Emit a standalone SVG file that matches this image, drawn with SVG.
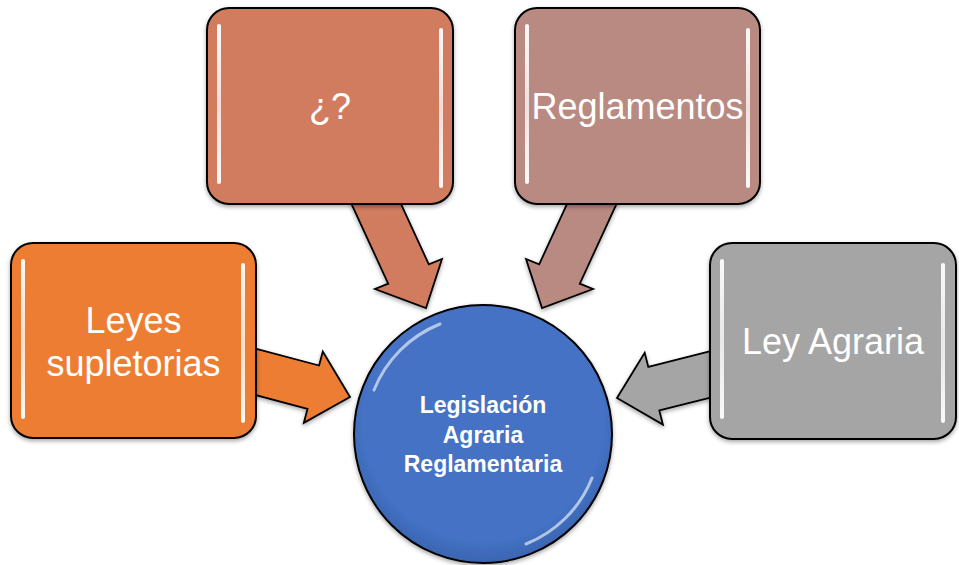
<svg xmlns="http://www.w3.org/2000/svg" width="959" height="565" viewBox="0 0 959 565">
  <defs>
    <filter id="sh" x="-10%" y="-10%" width="120%" height="125%">
      <feDropShadow dx="0" dy="2" stdDeviation="2" flood-color="#000" flood-opacity="0.35"/>
    </filter>
    <radialGradient id="gCircle" cx="50%" cy="45%" r="55%">
      <stop offset="0" stop-color="#4472C4"/>
      <stop offset="0.85" stop-color="#4472C4"/>
      <stop offset="1" stop-color="#3A64B0"/>
    </radialGradient>
    <linearGradient id="hl" x1="0" y1="0" x2="0" y2="1">
      <stop offset="0" stop-color="#fff" stop-opacity="0.95"/>
      <stop offset="0.5" stop-color="#fff" stop-opacity="0.75"/>
      <stop offset="1" stop-color="#fff" stop-opacity="0.95"/>
    </linearGradient>
  </defs>
  <style>
    .box { stroke: #000; stroke-width: 2; filter: url(#sh); }
    .arrow { stroke: #000; stroke-width: 1.8; stroke-linejoin: miter; filter: url(#sh); }
    .shine { fill: url(#hl); }
    .lbl { font-family: "Liberation Sans", Arial, sans-serif; font-size: 36px; fill: #fff; text-anchor: middle; }
    .clbl { font-family: "Liberation Sans", Arial, sans-serif; font-size: 23px; font-weight: bold; fill: #fff; text-anchor: middle; }
  </style>
  <rect width="959" height="565" fill="#fff"/>

  <g id="connectors">
    <polygon class="arrow" fill="#D27B5E" points="390.8,181.8 428.8,264.3 442,259 426,308 375,289 388.2,283.7 350.2,201.2"/>
    <polygon class="arrow" fill="#B98A82" points="577.2,181.8 539.2,264.3 526,259 542,308 593,289 579.8,283.7 617.8,201.2"/>
    <polygon class="arrow" fill="#ED7D31" points="250.8,347.3 319.1,365.5 322.8,351.5 350,397 303.8,422.9 307.5,408.9 239.2,390.7"/>
    <polygon class="arrow" fill="#A5A5A5" points="714.5,350.2 648.3,366.9 644.7,352.8 617,398 662.9,424.6 659.3,410.5 725.5,393.8"/>
  </g>

  <g id="node-pregunta">
    <rect class="box" x="207" y="8" width="246" height="196" rx="22" fill="#D27B5E"/>
    <rect class="shine" x="217" y="24" width="4" height="160" rx="2"/>
    <rect class="shine" x="439" y="28" width="4" height="160" rx="2"/>
    <text class="lbl" x="330" y="119">¿?</text>
  </g>

  <g id="node-reglamentos">
    <rect class="box" x="515" y="8" width="245" height="196" rx="22" fill="#B98A82"/>
    <rect class="shine" x="525" y="24" width="4" height="160" rx="2"/>
    <rect class="shine" x="746" y="28" width="4" height="160" rx="2"/>
    <text class="lbl" x="637.5" y="119">Reglamentos</text>
  </g>

  <g id="node-leyes">
    <rect class="box" x="11" y="243" width="245" height="195" rx="22" fill="#ED7D31"/>
    <rect class="shine" x="21" y="259" width="4" height="160" rx="2"/>
    <rect class="shine" x="241" y="263" width="4" height="160" rx="2"/>
    <text class="lbl" x="133.5" y="333">Leyes</text>
    <text class="lbl" x="133.5" y="376">supletorias</text>
  </g>

  <g id="node-ley-agraria">
    <rect class="box" x="710" y="243" width="246" height="196" rx="22" fill="#A5A5A5"/>
    <rect class="shine" x="720" y="259" width="4" height="160" rx="2"/>
    <rect class="shine" x="941" y="263" width="4" height="160" rx="2"/>
    <text class="lbl" x="833" y="354">Ley Agraria</text>
  </g>

  <g id="node-centro">
    <circle cx="483" cy="434" r="129" fill="url(#gCircle)" stroke="#000" stroke-width="2" filter="url(#sh)"/>
    <path d="M 374 390 A 118 118 0 0 1 440 324" fill="none" stroke="#fff" stroke-width="3" stroke-opacity="0.6" stroke-linecap="round"/>
    <path d="M 592 478 A 118 118 0 0 1 526 544" fill="none" stroke="#fff" stroke-width="3" stroke-opacity="0.6" stroke-linecap="round"/>
    <text class="clbl" x="483" y="413">Legislación</text>
    <text class="clbl" x="483" y="443">Agraria</text>
    <text class="clbl" x="483" y="472">Reglamentaria</text>
  </g>
</svg>
